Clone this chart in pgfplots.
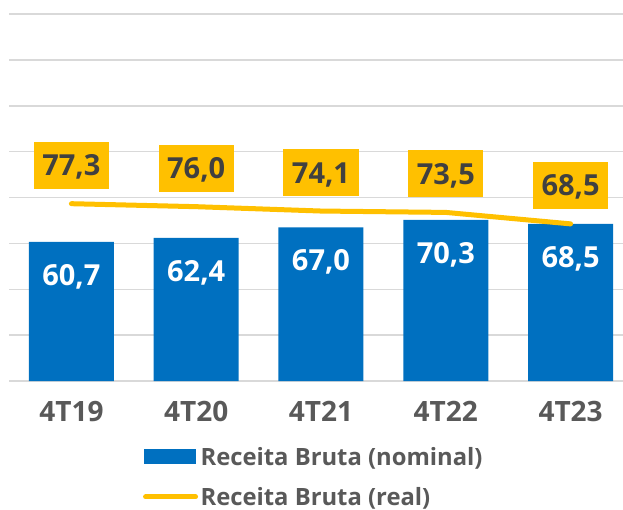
\documentclass[border=0pt]{standalone}
\usepackage{fontspec}
\setmainfont{Open Sans}
\usepackage{pgfplots}
\pgfplotsset{compat=1.18}
\definecolor{barblue}{HTML}{0070C0}
\definecolor{lineyel}{HTML}{FFC000}
\definecolor{gridgray}{HTML}{D9D9D9}
\definecolor{txtgray}{HTML}{595959}
\definecolor{lbldark}{HTML}{404040}
\begin{document}
\begin{tikzpicture}[x=1pt,y=1pt]
\begin{axis}[
  at={(0,0)}, anchor=south west,
  scale only axis, width=614pt, height=367pt,
  xmin=-0.5, xmax=4.42, ymin=0, ymax=160,
  ytick={0,20,...,160}, yticklabels={},
  ymajorgrids, grid style={gridgray, line width=1.5pt},
  xtick={0,1,2,3,4}, xticklabels={4T19,4T20,4T21,4T22,4T23},
  xticklabel style={font=\fontsize{28}{28}\selectfont\bfseries, text=txtgray, anchor=base, yshift=-40pt, inner sep=0pt},
  axis line style={draw=none},
  major tick length=0pt,
  clip=false,
  legend style={at={(axis description cs:0.218,-0.178)}, anchor=north west, draw=none, fill=none,
    font=\fontsize{23.8}{23.8}\selectfont\bfseries, text=txtgray, row sep=19.5pt, column sep=2pt, inner sep=0pt,
    nodes={inner sep=0.5pt}, cells={anchor=west}},
  legend cell align=left,
]
\addplot[ybar, bar width=85pt, fill=barblue, draw=none,
  legend image code/.code={\fill[barblue] (0pt,-7.5pt) rectangle (52pt,7.5pt);},
  nodes near coords={\pgfmathprintnumber[fixed,fixed zerofill,precision=1,use comma,assume math mode=true]{\pgfplotspointmeta}},
  nodes near coords style={anchor=base, yshift=-43.5pt, text=white, font=\fontsize{29}{29}\selectfont\bfseries, inner sep=0pt},
] coordinates {(0,60.7) (1,62.4) (2,67.0) (3,70.3) (4,68.5)};
\addlegendentry{Receita Bruta (nominal)}
\addplot[lineyel, line width=5pt, line cap=round, line join=round, mark=none,
  legend image code/.code={\draw[lineyel, line width=5pt, line cap=round] (2pt,0pt) -- (52pt,0pt);},
  nodes near coords={\pgfmathprintnumber[fixed,fixed zerofill,precision=1,use comma,assume math mode=true]{\pgfplotspointmeta}},
  nodes near coords style={anchor=center, yshift=38.5pt, fill=lineyel, text=lbldark, font=\fontsize{29}{29}\selectfont\bfseries,
    text height=21pt, text depth=0pt, inner ysep=13pt, inner xsep=8.5pt},
] coordinates {(0,77.3) (1,76.0) (2,74.1) (3,73.5) (4,68.5)};
\addlegendentry{Receita Bruta (real)}
\end{axis}
\pgfresetboundingbox
\path[use as bounding box] (-9,-128) rectangle (614,381);
\end{tikzpicture}
\end{document}
